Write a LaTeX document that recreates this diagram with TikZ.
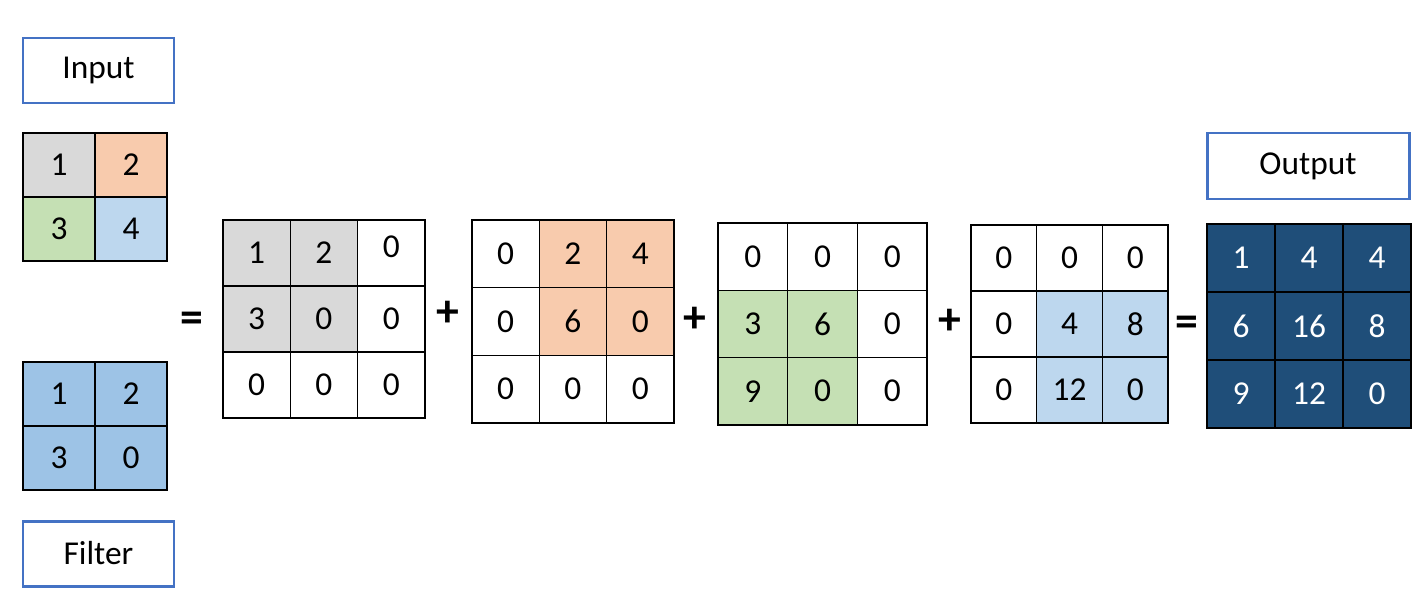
\documentclass[tikz,border=0pt]{standalone}
\usepackage{fontspec}
\setmainfont{Carlito}
\usepackage{tikz}
\definecolor{cvgray}{HTML}{D9D9D9}
\definecolor{cvorange}{HTML}{F8CBAD}
\definecolor{cvgreen}{HTML}{C5E0B4}
\definecolor{cvblue}{HTML}{BDD7EE}
\definecolor{cvfilter}{HTML}{9DC3E6}
\definecolor{cvdark}{HTML}{1F4E79}
\definecolor{cvframe}{HTML}{4472C4}
\def\px{0.02cm}
% grid of cells: name, left, top, cell width, cell height, options, list col/row/value/fill
\newcommand{\convgrid}[7]{%
  \foreach \c/\r/\v/\f in {#7}
    \node[cell,fill=\f,#6,minimum width=#4*\px,minimum height=#5*\px] (#1-\r\c)
      at ({#2+#4*(\c+0.5)},{#3+#5*(\r+0.5)}) {\v};
}

\begin{document}
\begin{tikzpicture}[x=\px,y=-\px,font=\fontsize{19}{21}\selectfont,
  cell/.style={draw=black,line width=0.8pt,inner sep=0pt,outer sep=0pt,anchor=center},
  lbl/.style={draw=cvframe,line width=1.7pt,fill=white,minimum width=151*\px,
              minimum height=65*\px,inner sep=0pt},
  op/.style={font=\fontsize{26}{28}\selectfont\bfseries,inner sep=0pt}]
\useasboundingbox[fill=white] (0,0) rectangle (1426,602);

% ---------------- input and filter ------------------------------------------
\node[lbl] (input) at (98.5,70.5) {Input};
\convgrid{in}{23}{133}{72}{64}{}{0/0/1/cvgray,1/0/2/cvorange,0/1/3/cvgreen,1/1/4/cvblue}
\convgrid{flt}{23}{362}{72}{64}{}{0/0/1/cvfilter,1/0/2/cvfilter,0/1/3/cvfilter,1/1/0/cvfilter}
\node[lbl] (filter) at (98.5,553.5) {Filter};

% ---------------- partial products -----------------------------------------
\convgrid{pa}{223}{220}{67.3}{66}{}{0/0/1/cvgray,1/0/2/cvgray,2/0/{\raisebox{0.25cm}{0}}/white,
  0/1/3/cvgray,1/1/0/cvgray,2/1/0/white,0/2/0/white,1/2/0/white,2/2/0/white}
\convgrid{pb}{472}{220}{67.3}{67.7}{}{0/0/0/white,1/0/2/cvorange,2/0/4/cvorange,
  0/1/0/white,1/1/6/cvorange,2/1/0/cvorange,0/2/0/white,1/2/0/white,2/2/0/white}
\convgrid{pc}{718}{223}{69.7}{67.3}{}{0/0/0/white,1/0/0/white,2/0/0/white,
  0/1/3/cvgreen,1/1/6/cvgreen,2/1/0/white,0/2/9/cvgreen,1/2/0/cvgreen,2/2/0/white}
\convgrid{pd}{971}{225}{65.7}{66}{}{0/0/0/white,1/0/0/white,2/0/0/white,
  0/1/0/white,1/1/4/cvblue,2/1/8/cvblue,0/2/0/white,1/2/12/cvblue,2/2/0/cvblue}

% ---------------- output ----------------------------------------------------
\node[lbl,minimum width=202*\px,minimum height=66*\px] (output) at (1308,166) {Output};
\convgrid{out}{1207}{224}{68}{68}{text=white}{0/0/1/cvdark,1/0/4/cvdark,2/0/4/cvdark,
  0/1/6/cvdark,1/1/16/cvdark,2/1/8/cvdark,0/2/9/cvdark,1/2/12/cvdark,2/2/0/cvdark}

% ---------------- operators -------------------------------------------------
\node[op] (eq1) at (192,322) {=};
\node[op] (plus1) at (448,314) {+};
\node[op] (plus2) at (695,320) {+};
\node[op] (plus3) at (950,322) {+};
\node[op] (eq2) at (1187,326) {=};

\end{tikzpicture}
\end{document}
